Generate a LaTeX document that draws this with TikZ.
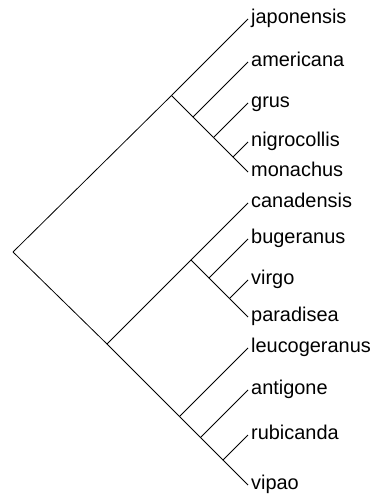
\documentclass[tikz,border=0pt]{standalone}
\usepackage{fontspec}
\setmainfont{Liberation Sans}
\begin{document}
\begin{tikzpicture}[x=1bp,y=-1bp,
  branch/.style={line width=0.8bp,black},
  leaf/.style={anchor=mid west, inner sep=0pt, xshift=3bp, yshift=-2bp, font=\fontsize{20}{22}\selectfont}]
\useasboundingbox (0,0) rectangle (377,498);
% leaf tips
\coordinate (jap) at (248,19);
\coordinate (ame) at (248,62);
\coordinate (gru) at (248,103);
\coordinate (nig) at (248,142);
\coordinate (mon) at (248,172);
\coordinate (can) at (248,203);
\coordinate (bug) at (248,239);
\coordinate (vir) at (248,280);
\coordinate (par) at (248,317);
\coordinate (leu) at (248,348);
\coordinate (ant) at (248,390);
\coordinate (rub) at (248,435);
\coordinate (vip) at (248,485);
% internal nodes
\coordinate (root) at (13,252);
\coordinate (A) at (171.5,95.5);
\coordinate (B) at (193,117);
\coordinate (C) at (213.5,137.5);
\coordinate (D) at (233,157);
\coordinate (E) at (107,344);
\coordinate (F) at (191,260);
\coordinate (G) at (209,278);
\coordinate (H) at (229.5,298.5);
\coordinate (I) at (179.5,416.5);
\coordinate (J) at (200.5,437.5);
\coordinate (K) at (223,460);
% branches
\draw[branch] (root) -- (A);
\draw[branch] (root) -- (E);
\draw[branch] (A) -- (jap);
\draw[branch] (A) -- (B);
\draw[branch] (B) -- (ame);
\draw[branch] (B) -- (C);
\draw[branch] (C) -- (gru);
\draw[branch] (C) -- (D);
\draw[branch] (D) -- (nig);
\draw[branch] (D) -- (mon);
\draw[branch] (E) -- (F);
\draw[branch] (E) -- (I);
\draw[branch] (F) -- (can);
\draw[branch] (F) -- (G);
\draw[branch] (G) -- (bug);
\draw[branch] (G) -- (H);
\draw[branch] (H) -- (vir);
\draw[branch] (H) -- (par);
\draw[branch] (I) -- (leu);
\draw[branch] (I) -- (J);
\draw[branch] (J) -- (ant);
\draw[branch] (J) -- (K);
\draw[branch] (K) -- (rub);
\draw[branch] (K) -- (vip);
% labels
\node[leaf] (ljap) at (jap) {japonensis};
\node[leaf] (lame) at (ame) {americana};
\node[leaf] (lgru) at (gru) {grus};
\node[leaf] (lnig) at (nig) {nigrocollis};
\node[leaf] (lmon) at (mon) {monachus};
\node[leaf] (lcan) at (can) {canadensis};
\node[leaf] (lbug) at (bug) {bugeranus};
\node[leaf] (lvir) at (vir) {virgo};
\node[leaf] (lpar) at (par) {paradisea};
\node[leaf] (lleu) at (leu) {leucogeranus};
\node[leaf] (lant) at (ant) {antigone};
\node[leaf] (lrub) at (rub) {rubicanda};
\node[leaf] (lvip) at (vip) {vipao};
\end{tikzpicture}
\end{document}
